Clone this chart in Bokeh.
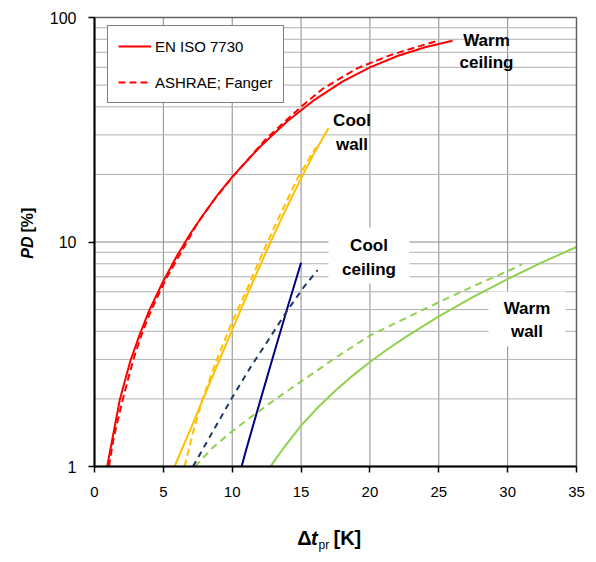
from bokeh.plotting import figure
from bokeh.models import (FixedTicker, PrintfTickFormatter, Label, BoxAnnotation,
                          Legend, LegendItem, LinearAxis, LogAxis, Range1d)
from bokeh.embed import file_html
from bokeh.resources import INLINE

FONT = "Liberation Sans"

# ---------------- data ----------------
# Warm ceiling
iso_wc_x = [0.92, 1.3, 1.85, 2.6, 3.3, 4.0, 5.0, 6.0, 7.0, 8.0, 9.0, 10.0,
            12.0, 14.0, 16.0, 18.0, 20.0, 22.0, 24.0, 26.0]
iso_wc_y = [1.0, 1.33, 2.0, 2.95, 3.9, 5.0, 6.7, 8.7, 11.0, 13.5, 16.4, 19.5,
            26.5, 34.5, 43.1, 51.8, 60.0, 67.4, 73.7, 78.8]
ash_wc_x = [1.05, 1.4, 2.06, 2.82, 3.5, 4.14, 4.74, 5.28, 6.2, 7.5, 8.75, 10.0,
            12.5, 15.0, 16.65, 19.1, 21.5, 23.9, 25.0]
ash_wc_y = [1.0, 1.35, 2.0, 3.0, 4.0, 5.0, 6.0, 7.0, 8.8, 12.2, 15.6, 19.4,
            29.0, 40.0, 48.5, 59.5, 68.0, 75.5, 79.0]
# Cool wall
iso_cw_x = [5.81, 7.0, 8.0, 9.0, 10.0, 11.0, 12.0, 13.0, 14.0, 15.0, 16.0, 17.0]
iso_cw_y = [1.0, 1.48, 2.08, 2.91, 4.07, 5.65, 7.8, 10.67, 14.4, 19.2, 25.2, 32.2]
ash_cw_x = [6.54, 7.2, 7.82, 8.8, 9.88, 11.0, 12.18, 13.5, 14.8, 16.1]
ash_cw_y = [1.0, 1.45, 1.97, 2.9, 4.25, 6.0, 8.87, 13.3, 19.5, 26.5]
# Cool ceiling
iso_cc_x = [10.68, 11.0, 12.0, 13.0, 14.0, 15.0]
iso_cc_y = [1.0, 1.18, 1.93, 3.14, 5.07, 8.09]
ash_cc_x = [7.15, 8.5, 10.0, 11.3, 12.6, 14.0, 15.2, 16.2]
ash_cc_y = [1.0, 1.4, 2.03, 2.75, 3.64, 4.95, 6.3, 7.5]
# Warm wall
iso_ww_x = [12.78, 13.2, 13.7, 14.3, 15.0, 16.25, 17.5, 18.75, 20.0, 21.25,
            22.5, 25.0, 27.5, 30.0, 32.5, 35.0]
iso_ww_y = [1.0, 1.09, 1.2, 1.34, 1.52, 1.84, 2.18, 2.54, 2.92, 3.32,
            3.74, 4.66, 5.70, 6.84, 8.11, 9.5]
ash_ww_x = [7.3, 8.5, 9.9, 11.3, 12.66, 14.0, 15.46, 17.5, 20.0, 22.5, 25.0,
            27.5, 30.0, 31.06]
ash_ww_y = [1.0, 1.2, 1.42, 1.65, 1.9, 2.17, 2.5, 3.05, 3.83, 4.55, 5.39,
            6.35, 7.42, 7.95]

x_min, x_max = 0, 35
y_min, y_max = 1, 100
x_ticks = [0, 5, 10, 15, 20, 25, 30, 35]
y_ticks = [1, 10, 100]
y_minor = [2, 3, 4, 5, 6, 7, 8, 9, 20, 30, 40, 50, 60, 70, 80, 90]
legend_labels = ["EN ISO 7730", "ASHRAE; Fanger"]

# ---------------- figure ----------------
# The frame spans the whole canvas so that the axis titles (drawn as Labels)
# are not clipped; the axes are placed at the plot-area edges.
W, H = 588, 554
PX_L, PX_R, PX_T, PX_B = 94, 576, 17, 466          # plot-area edges (pixels)
kx = (PX_R - PX_L) / (x_max - x_min)
ky = (PX_B - PX_T) / 2.0                            # pixels per decade
xr0 = x_min - PX_L / kx
xr1 = xr0 + W / kx
yr0 = 10 ** (-(H - PX_B) / ky)
yr1 = 10 ** (2 + PX_T / ky)


def px_y(py):
    """data y for a pixel row (used only to place text)"""
    return 10 ** ((PX_B - py) / ky)


def px_x(px):
    return (px - PX_L) / kx


p = figure(width=W, height=H, x_range=Range1d(xr0, xr1),
           y_range=Range1d(yr0, yr1), y_axis_type="log",
           x_axis_location=None, y_axis_location=None,
           output_backend="svg", toolbar_location=None, min_border=0)
p.background_fill_color = "white"
p.border_fill_color = "white"
p.outline_line_color = None
p.grid.visible = False

# grid lines (from the tick lists)
p.segment(x0=x_ticks, y0=[y_min] * len(x_ticks), x1=x_ticks,
          y1=[y_max] * len(x_ticks), line_color="#8a8a8a", line_width=1,
          level="underlay")
p.segment(x0=[x_min] * len(y_minor), y0=y_minor, x1=[x_max] * len(y_minor),
          y1=y_minor, line_color="#b0b0b0", line_width=1, level="underlay")
p.segment(x0=[x_min] * len(y_ticks), y0=y_ticks, x1=[x_max] * len(y_ticks),
          y1=y_ticks, line_color="#8a8a8a", line_width=1, level="underlay")

# white boxes behind two of the curve labels
p.add_layout(BoxAnnotation(left=px_x(328), right=px_x(409), bottom=px_y(283),
                           top=px_y(227), fill_color="white", fill_alpha=1,
                           line_color=None, level="underlay"))
p.add_layout(BoxAnnotation(left=px_x(488), right=px_x(565), bottom=px_y(346),
                           top=px_y(291), fill_color="white", fill_alpha=1,
                           line_color=None, level="underlay"))

# axes
xax = LinearAxis(fixed_location=y_min, bounds=(x_min, x_max),
                 ticker=FixedTicker(ticks=x_ticks, minor_ticks=[]))
yax = LogAxis(fixed_location=x_min, bounds=(y_min, y_max),
              ticker=FixedTicker(ticks=y_ticks, minor_ticks=y_minor),
              formatter=PrintfTickFormatter(format="%d"))
for ax in (xax, yax):
    ax.axis_line_color = "black"
    ax.axis_line_width = 2
    ax.major_tick_line_color = "black"
    ax.major_tick_line_width = 1.5
    ax.major_tick_out = 6
    ax.major_tick_in = 0
    ax.minor_tick_line_color = None
    ax.major_label_text_color = "black"
    ax.major_label_text_font = FONT
xax.major_label_text_font_size = "15px"
yax.major_label_text_font_size = "16px"
xax.major_label_standoff = 14
yax.major_label_standoff = 12
p.add_layout(xax, "below")
p.add_layout(yax, "left")

# frame border of the plot area
p.add_layout(BoxAnnotation(left=x_min, right=x_max, bottom=y_min, top=y_max,
                           fill_color=None, line_color="black", line_width=2))

# ---------------- curves ----------------
r_iso = p.line(iso_wc_x, iso_wc_y, line_color="#ff0000", line_width=2)
r_ash = p.line(ash_wc_x, ash_wc_y, line_color="#ff0000", line_width=2,
               line_dash="7 4")
p.line(iso_cw_x, iso_cw_y, line_color="#ffc000", line_width=2)
p.line(ash_cw_x, ash_cw_y, line_color="#ffc000", line_width=2, line_dash="7 4")
p.line(iso_cc_x, iso_cc_y, line_color="#000080", line_width=2)
p.line(ash_cc_x, ash_cc_y, line_color="#1f3864", line_width=2, line_dash="6 5")
p.line(iso_ww_x, iso_ww_y, line_color="#92d050", line_width=2)
p.line(ash_ww_x, ash_ww_y, line_color="#92d050", line_width=2, line_dash="7 5")

legend = Legend(items=[LegendItem(label=legend_labels[0], renderers=[r_iso]),
                       LegendItem(label=legend_labels[1], renderers=[r_ash])],
                location=(107, H - 103), margin=0, padding=10, spacing=16,
                glyph_width=33, glyph_height=20, label_height=20,
                label_standoff=4, label_text_font=FONT,
                label_text_font_size="15px", label_text_color="black",
                border_line_color="black", border_line_width=1,
                background_fill_color="white", background_fill_alpha=1)
p.add_layout(legend)


# ---------------- texts ----------------
def lab(px, py, t, size="17px", style="bold", align="center", angle=0):
    p.add_layout(Label(x=px_x(px), y=px_y(py), text=t, text_font=FONT,
                       text_font_size=size, text_font_style=style,
                       text_align=align, text_baseline="middle", angle=angle,
                       text_color="black"))


# curve labels (pixel centres of the text lines)
lab(486, 39.5, "Warm")
lab(486, 62, "ceiling")
lab(351.5, 120, "Cool")
lab(351.5, 144, "wall")
lab(368.5, 245, "Cool")
lab(368.5, 268.5, "ceiling")
lab(526.5, 308, "Warm")
lab(526.5, 330.5, "wall")

# axis titles
lab(296.7, 537.5, "\u0394", size="20px", style="bold", align="left")
lab(310.5, 537.5, "t", size="20px", style="bold italic", align="left")
lab(318, 544.5, "pr", size="12px", style="normal", align="left")
lab(333, 537.5, "[K]", size="20px", style="bold", align="left")

lab(27, 236, "PD", size="16px", style="bold italic", align="right",
    angle=1.5707963)
lab(27, 232, "[%]", size="16px", style="bold", align="left",
    angle=1.5707963)

open("out.html", "w").write(file_html(p, INLINE))
